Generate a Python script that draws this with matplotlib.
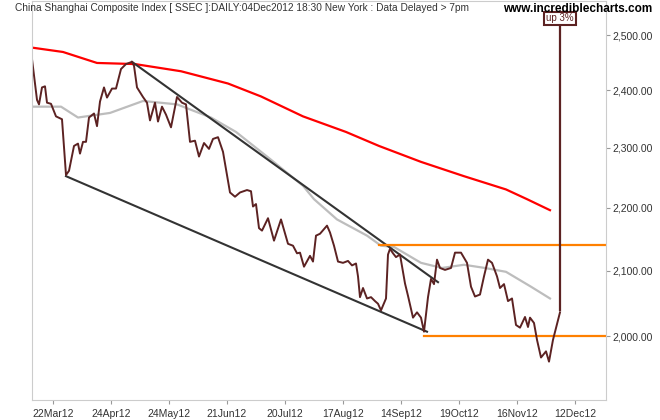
import matplotlib
matplotlib.use("Agg")
import matplotlib.pyplot as plt
from matplotlib.ticker import FixedLocator, NullLocator

# x positions are trading-day positions on the chart's time axis
price_x = [32,37,39,42,45,47,51,56,62,66,69,74,78,80,83,86,89,94,97,100,104,107,112,116,121,126,132,134,137,143,147,150,155,158,162,166,171,177,182,186,190,195,199,204,209,213,218,223,230,235,240,247,251,253,256,259,262,268,274,281,288,293,297,300,304,310,313,316,320,327,330,334,338,343,348,352,356,358,360,363,367,371,375,378,381,386,388,390,393,396,400,405,408,413,417,421,424,428,431,434,437,440,445,451,455,461,467,471,475,480,484,488,492,497,500,504,508,512,516,520,525,528,530,534,537,541,546,549,553,558,560]
price_y = [2456,2383,2375,2405,2407,2378,2376,2354,2349,2254,2261,2303,2307,2290,2310,2310,2352,2359,2337,2380,2405,2387,2403,2403,2438,2447,2451,2444,2405,2388,2378,2347,2378,2345,2371,2357,2335,2388,2378,2375,2310,2312,2285,2308,2298,2315,2318,2293,2225,2218,2225,2229,2227,2202,2206,2167,2163,2183,2147,2181,2142,2139,2127,2128,2106,2123,2114,2155,2158,2171,2160,2139,2114,2112,2115,2108,2111,2091,2059,2073,2057,2059,2053,2049,2039,2057,2125,2134,2127,2121,2125,2080,2061,2028,2036,2028,2007,2059,2087,2079,2117,2104,2101,2104,2128,2128,2112,2075,2060,2063,2091,2117,2112,2091,2073,2079,2053,2057,2017,2013,2029,2014,2028,2020,1995,1969,1978,1963,1995,2024,2036]

ma_short_x = [32,61,78,110,143,177,211,236,270,303,314,337,367,381,394,421,442,464,485,506,531,550]
ma_short_y = [2371,2371,2352,2360,2381,2375,2352,2327,2281,2236,2214,2181,2155,2139,2137,2112,2104,2109,2104,2098,2075,2057]

ma_long_x = [32,63,97,135,181,228,261,303,346,379,421,464,506,527,550]
ma_long_y = [2477,2469,2449,2447,2434,2412,2389,2354,2327,2303,2276,2252,2230,2214,2196]

upper_trend_x = [132,438]; upper_trend_y = [2451,2082]
lower_trend_x = [66,427];  lower_trend_y = [2252,2007]
resist_x = [379,606]; resist_y = [2140,2140]
support_x = [424,606]; support_y = [2000,2000]
marker_x = [560,560]; marker_y = [2040,2520]

tick_pos = [52.7,111,168.6,226.7,285,342.6,400.8,459,517,575]
tick_labels = ["22Mar12","24Apr12","24May12","21Jun12","20Jul12","17Aug12","14Sep12","19Oct12","16Nov12","12Dec12"]
y_ticks = [2000,2100,2200,2300,2400,2500]

fig = plt.figure(figsize=(6.6,4.2), dpi=100)
ax = fig.add_axes([31.6/660, 20/420, (605.6-31.6)/660, 399/420])
ax.set_yscale("log")
ax.set_xlim(31.6,605.6)
ax.set_ylim(1908,2564)

ax.plot(ma_long_x, ma_long_y, color="#ff0000", lw=1.6)
ax.plot(ma_short_x, ma_short_y, color="#bdbdbd", lw=1.6)
ax.plot(upper_trend_x, upper_trend_y, color="#333333", lw=1.5)
ax.plot(lower_trend_x, lower_trend_y, color="#333333", lw=1.5)
ax.plot(resist_x, resist_y, color="#ff8000", lw=1.6)
ax.plot(support_x, support_y, color="#ff8000", lw=1.6)
ax.plot(price_x, price_y, color="#5c2222", lw=1.4)
ax.plot(marker_x, marker_y, color="#5c2222", lw=1.6)
ax.text(560, 2531, "up 3%", ha="center", va="center", fontsize=7, color="#5c2222",
        family="Liberation Sans",
        bbox=dict(boxstyle="square,pad=0.2", fc="white", ec="#5c2222", lw=1.5))

ax.yaxis.tick_right()
ax.yaxis.set_major_locator(FixedLocator(y_ticks))
ax.yaxis.set_minor_locator(NullLocator())
ax.set_yticklabels([f"{v:,.2f}" for v in y_ticks])
ax.set_xticks(tick_pos)
ax.set_xticklabels(tick_labels)
ax.tick_params(axis="both", labelsize=7.5, colors="#999999", length=3, labelcolor="#333333")
ax.tick_params(axis="y", pad=2)
for lab in ax.get_xticklabels() + ax.get_yticklabels():
    lab.set_family("Liberation Sans")
for s in ax.spines.values():
    s.set_color("#cccccc")

fig.text(15/660, 1-8/420, "China Shanghai Composite Index [ SSEC ]:DAILY:04Dec2012 18:30 New York : Data Delayed > 7pm",
         fontsize=7.3, color="#333333", va="center", ha="left", family="Liberation Sans")
fig.text(652/660, 1-9/420, "www.incrediblecharts.com", fontsize=8.5, fontweight="bold",
         va="center", ha="right", family="Liberation Sans")
fig.savefig("out.png", dpi=100)
